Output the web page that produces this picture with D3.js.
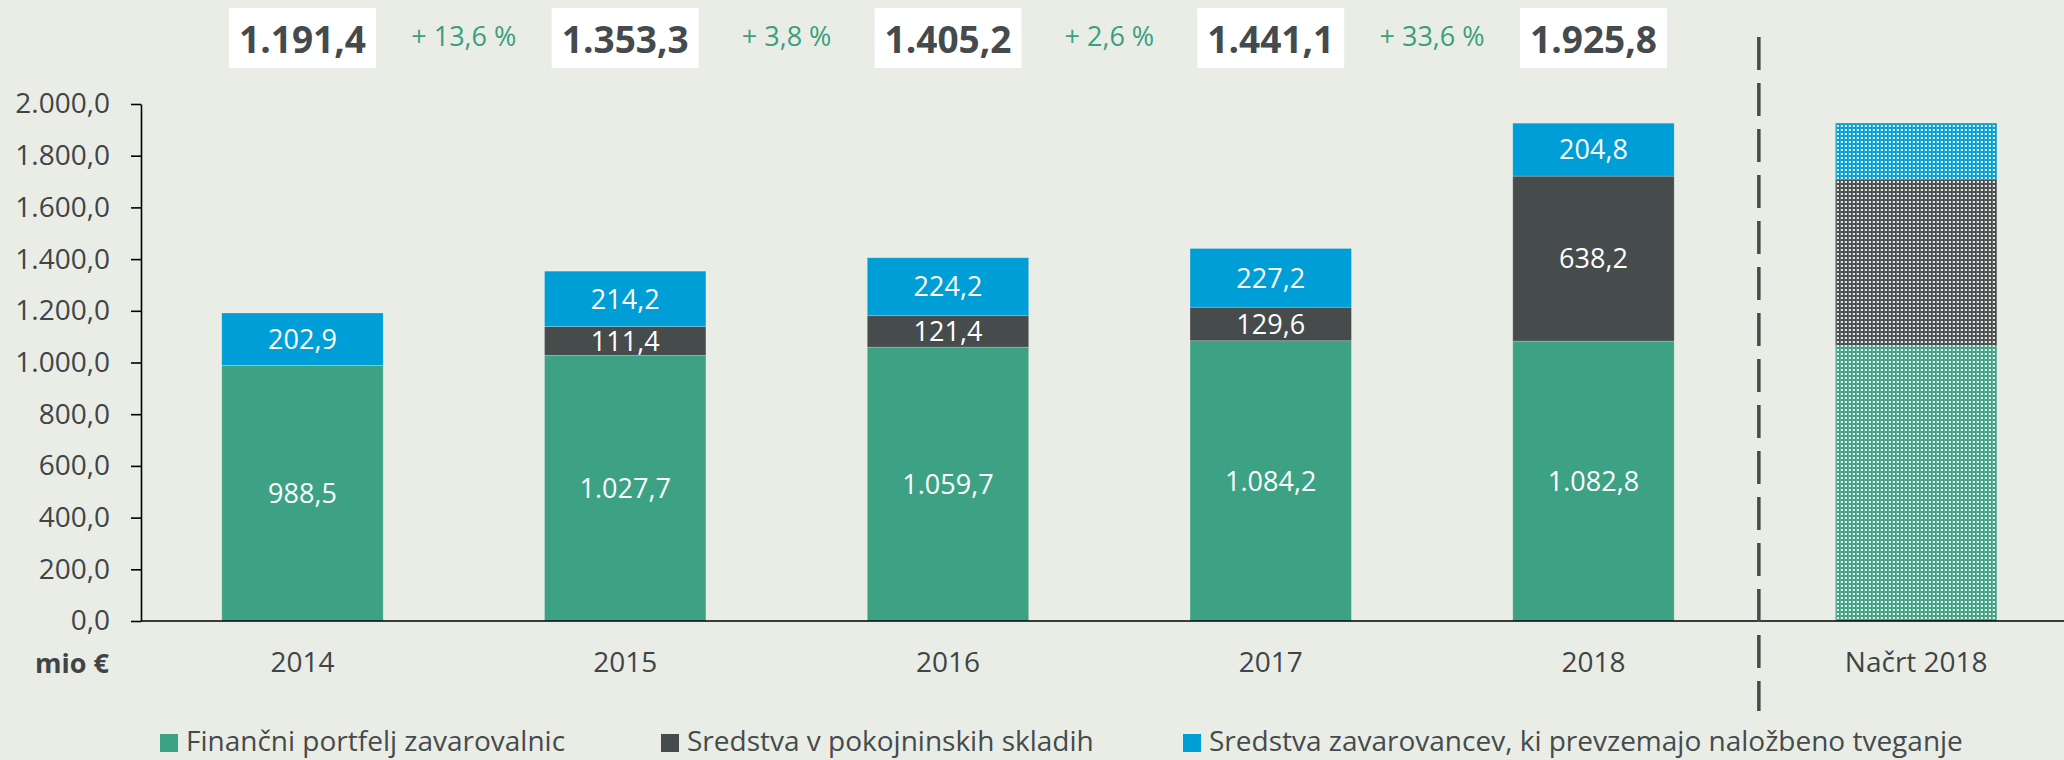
<!DOCTYPE html>
<html>
<head>
<meta charset="utf-8">
<script src="https://cdn.jsdelivr.net/npm/d3@7"></script>
<style>
  html, body { margin: 0; padding: 0; background: #e9ede6; }
  svg { display: block; }
  text { font-family: "Open Sans", "Noto Sans", sans-serif; }
</style>
</head>
<body>
<svg id="chart" width="2064" height="760"></svg>
<script>
// ---- DATA ----
const categories = ["2014", "2015", "2016", "2017", "2018", "Načrt 2018"];
const seriesNames = [
  "Finančni portfelj zavarovalnic",
  "Sredstva v pokojninskih skladih",
  "Sredstva zavarovancev, ki prevzemajo naložbeno tveganje"
];
const financniPortfelj   = [988.5, 1027.7, 1059.7, 1084.2, 1082.8, 1067.0];
const pokojninskiSkladi  = [0, 111.4, 121.4, 129.6, 638.2, 639.0];
const nalozbenoTveganje  = [202.9, 214.2, 224.2, 227.2, 204.8, 220.0];
const totals             = [1191.4, 1353.3, 1405.2, 1441.1, 1925.8];
const growth             = [13.6, 3.8, 2.6, 33.6];
const yTicks             = [0, 200, 400, 600, 800, 1000, 1200, 1400, 1600, 1800, 2000];
const planCategory       = "Načrt 2018";
const colors             = ["#3da283", "#464b4c", "#009ed6"];

// ---- SETUP ----
const svg = d3.select("#chart");
const W = 2064, H = 760;
svg.append("rect").attr("width", W).attr("height", H).attr("fill", "#e9ede6");

const loc = d3.formatLocale({decimal: ",", thousands: ".", grouping: [3], currency: ["", " €"]});
const fmt1 = loc.format(",.1f");

const x = d3.scaleBand().domain(categories).range([141.1, 2077.6]).paddingInner(0.5).paddingOuter(0.25);
const y = d3.scaleLinear().domain([0, 2000]).range([621, 104]);

// patterns for plan bar
const defs = svg.append("defs");
colors.forEach((c, i) => {
  const p = defs.append("pattern").attr("id", "pat" + i)
    .attr("patternUnits", "userSpaceOnUse").attr("width", 4).attr("height", 4);
  p.append("rect").attr("width", 4).attr("height", 4).attr("fill", c);
  p.append("rect").attr("x", 1).attr("y", 1).attr("width", 2).attr("height", 2).attr("fill", "#ffffff").attr("opacity", 0.85);
  p.append("rect").attr("x", 0).attr("y", 0).attr("width", 1).attr("height", 4).attr("fill", "#ffffff").attr("opacity", 0.15);
});

// ---- STACK ----
const rows = categories.map((c, i) => ({
  cat: c, s0: financniPortfelj[i], s1: pokojninskiSkladi[i], s2: nalozbenoTveganje[i]
}));
const stack = d3.stack().keys(["s0", "s1", "s2"]);
const stacked = stack(rows);

const barG = svg.append("g");
stacked.forEach((layer, li) => {
  barG.selectAll(null).data(layer).enter().append("rect")
    .attr("x", d => x(d.data.cat))
    .attr("width", x.bandwidth())
    .attr("y", d => y(d[1]))
    .attr("height", d => Math.max(0, y(d[0]) - y(d[1])))
    .attr("fill", d => d.data.cat === planCategory ? `url(#pat${li})` : colors[li])
    .attr("stroke", d => d.data.cat === planCategory ? "none" : "rgba(255,255,255,0.25)")
    .attr("stroke-width", 0.8);
});

// segment labels
stacked.forEach((layer, li) => {
  barG.selectAll(null).data(layer.filter(d => d.data.cat !== planCategory && (d[1] - d[0]) > 0))
    .enter().append("text")
    .attr("x", d => x(d.data.cat) + x.bandwidth() / 2)
    .attr("y", d => (y(d[0]) + y(d[1])) / 2)
    .attr("dy", "0.36em")
    .attr("text-anchor", "middle")
    .attr("fill", "#ffffff")
    .attr("font-size", 27)
    .text(d => fmt1(d[1] - d[0]));
});

// ---- AXES ----
const yAxis = d3.axisLeft(y).tickValues(yTicks).tickFormat(fmt1).tickSize(10).tickSizeOuter(0).tickPadding(21);
const yg = svg.append("g").attr("transform", "translate(141,0)").call(yAxis);
yg.select(".domain").attr("stroke", "#000").attr("stroke-width", 1.6);
yg.selectAll(".tick line").attr("stroke", "#000").attr("stroke-width", 1.6);
yg.selectAll(".tick text").attr("font-size", 28).attr("fill", "#404446")
  .attr("font-family", "'Open Sans', sans-serif");

const xAxis = d3.axisBottom(x).tickSize(0).tickPadding(0);
const xg = svg.append("g").attr("transform", `translate(0,${y(0)})`).call(xAxis);
xg.select(".domain").remove();
xg.selectAll(".tick text").attr("font-size", 28).attr("fill", "#404446")
  .attr("font-family", "'Open Sans', sans-serif").attr("dy", null).attr("y", 51);
svg.append("line").attr("x1", 141).attr("x2", W).attr("y1", y(0)).attr("y2", y(0))
  .attr("stroke", "#000").attr("stroke-width", 1.6);

svg.append("text").attr("x", 109).attr("y", 673).attr("text-anchor", "end")
  .attr("font-size", 27).attr("font-weight", "bold").attr("fill", "#404446").text("mio €");

// ---- separator ----
const iPlan = categories.indexOf(planCategory);
const sepX = (x(categories[iPlan - 1]) + x.bandwidth() + x(planCategory)) / 2 + 4;
svg.append("line").attr("x1", sepX).attr("x2", sepX).attr("y1", 37).attr("y2", 711)
  .attr("stroke", "#464b4c").attr("stroke-width", 3.5).attr("stroke-dasharray", "33 13");

// ---- totals boxes ----
const topG = svg.append("g");
totals.forEach((t, i) => {
  const cx = x(categories[i]) + x.bandwidth() / 2;
  topG.append("rect").attr("x", cx - 73.5).attr("y", 8).attr("width", 147).attr("height", 60).attr("fill", "#ffffff");
  topG.append("text").attr("x", cx).attr("y", 53).attr("text-anchor", "middle")
    .attr("font-size", 37).attr("font-weight", "bold").attr("fill", "#454a4c").text(fmt1(t));
});
growth.forEach((g, i) => {
  const cx = (x(categories[i]) + x(categories[i + 1])) / 2 + x.bandwidth() / 2;
  topG.append("text").attr("x", cx).attr("y", 46).attr("text-anchor", "middle")
    .attr("font-size", 27).attr("fill", "#3a9f7e").text("+ " + fmt1(g) + " %");
});

// ---- legend ----
const legendX = [160, 661, 1183];
const lg = svg.append("g");
seriesNames.forEach((n, i) => {
  lg.append("rect").attr("x", legendX[i]).attr("y", 734).attr("width", 18).attr("height", 18).attr("fill", colors[i]);
  lg.append("text").attr("x", legendX[i] + 26).attr("y", 751).attr("font-size", 28).attr("fill", "#454a4c").text(n);
});
</script>
</body>
</html>
